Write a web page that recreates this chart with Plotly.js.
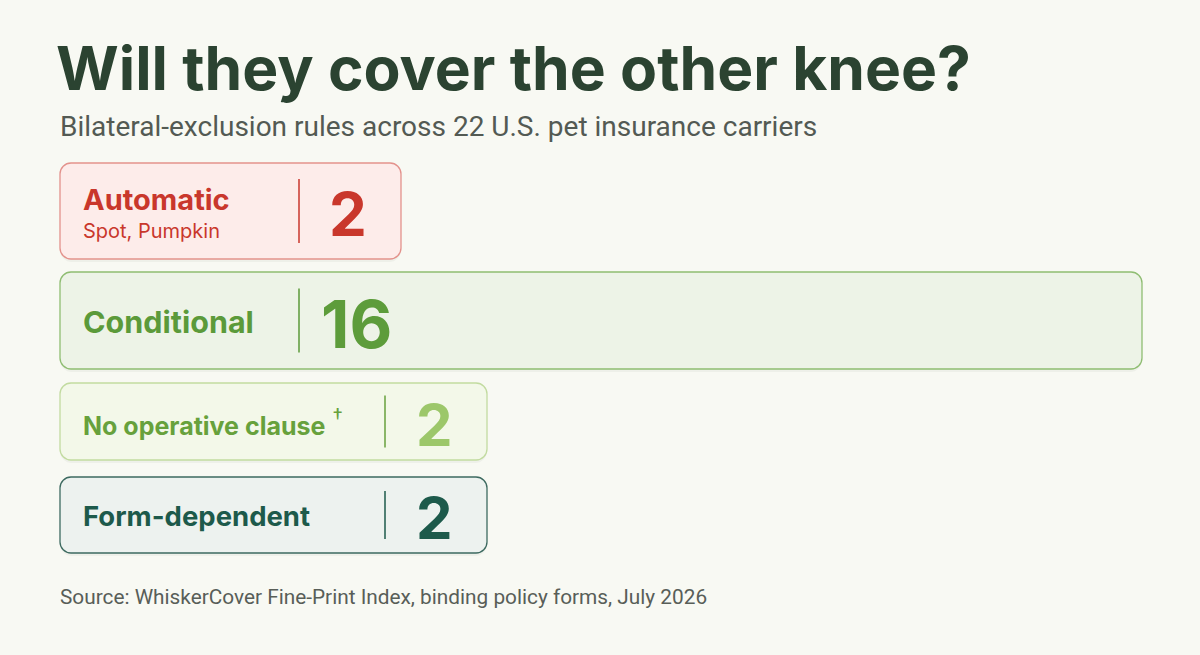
<!DOCTYPE html>
<html>
<head>
<meta charset="utf-8">
<script src="https://cdn.plot.ly/plotly-3.0.1.min.js"></script>
<style>
  html, body { margin: 0; padding: 0; background: #f8f9f3; }
  #chart { width: 1200px; height: 655px; }
</style>
</head>
<body>
<div id="chart"></div>
<script>
// ---------------- DATA ----------------
const categories = ["Automatic", "Conditional", "No operative clause", "Form-dependent"];
const counts     = [2, 16, 2, 2];
const carriers   = ["Spot, Pumpkin", "", "", ""];
const footnotes  = ["", "", "†", ""];
const totalCarriers = 22;

const titleText    = "Will they cover the other knee?";
const subtitleText = "Bilateral-exclusion rules across " + totalCarriers + " U.S. pet insurance carriers";
const sourceText   = "Source: WhiskerCover Fine-Print Index, binding policy forms, July 2026";

// ---------------- STYLE / LAYOUT ----------------
const W = 1200, H = 655;
const left = 60, right = 1142;               // span the largest count fills
const pxPerUnit = (right - left) / Math.max(...counts);
const minBoxPx  = [341, 0, 427, 427];        // minimum box width to fit its content
const rowCenter = [211, 320.5, 421.5, 515];
const rowHeight = [96, 97, 77, 76];
const dividerPx = [239, 239, 325, 325];      // divider offset from box left
const dividerHalf = [32, 32, 26, 24];
const valueShift = [288, 296, 374, 374];     // value centre offset from box left
const valueSize  = [60, 66, 58, 58];
const labelSize  = [29, 30.5, 25, 27.5];

const fills   = ["#fdecea", "#edf3e7", "#f3f8e9", "#edf2ef"];
const borders = ["#e3928c", "#8fbd72", "#c2dba0", "#3d6a60"];
const labelCol = ["#c9372c", "#5b9a3a", "#67a13c", "#1d5a4b"];
const valueCol = ["#c9372c", "#5d9c3b", "#9cc76a", "#1d5a4b"];
const textFont = "Inter, 'Noto Sans', sans-serif";
const plainFont = "Roboto, 'Liberation Sans', sans-serif";

const boxLen = counts.map((c, i) => Math.max(c, minBoxPx[i] / pxPerUnit));

const shadow = {
  type: "bar", orientation: "h",
  x: boxLen, base: 0,
  y: rowCenter.map(c => c + 3),
  width: rowHeight,
  marker: { color: "rgba(60,80,50,0.05)", cornerradius: 12, line: { width: 0 } },
  hoverinfo: "skip", showlegend: false
};
const boxes = {
  type: "bar", orientation: "h",
  x: boxLen, base: 0,
  y: rowCenter,
  width: rowHeight,
  marker: { color: fills, cornerradius: 11, line: { color: borders, width: 1.3 } },
  customdata: counts,
  text: categories, textposition: "none",
  hovertemplate: "%{text}: %{customdata}<extra></extra>",
  showlegend: false
};

const annotations = [];
const shapes = [];
categories.forEach((cat, i) => {
  const hasSub = carriers[i] !== "";
  annotations.push({
    x: 0, xref: "x", xshift: 21, xanchor: "left",
    y: hasSub ? rowCenter[i] - 12 : rowCenter[i] + 1, yref: "y", yanchor: "middle",
    text: "<b>" + cat + "</b>" +
          (footnotes[i] ? " <sup><span style='font-size:21px'>" + footnotes[i] + "</span></sup>" : ""),
    showarrow: false,
    font: { family: textFont, size: labelSize[i], color: labelCol[i] }
  });
  if (hasSub) {
    annotations.push({
      x: 0, xref: "x", xshift: 21, xanchor: "left",
      y: rowCenter[i] + 20, yref: "y", yanchor: "middle",
      text: carriers[i], showarrow: false,
      font: { family: textFont, size: 20, color: labelCol[i] }
    });
  }
  annotations.push({
    x: 0, xref: "x", xshift: valueShift[i], xanchor: "center",
    y: rowCenter[i] + 3, yref: "y", yanchor: "middle",
    text: "<b>" + counts[i] + "</b>", showarrow: false,
    font: { family: textFont, size: valueSize[i], color: valueCol[i] }
  });
  shapes.push({
    type: "line", xref: "x", xsizemode: "pixel", xanchor: 0,
    x0: dividerPx[i], x1: dividerPx[i],
    yref: "y", y0: rowCenter[i] - dividerHalf[i], y1: rowCenter[i] + dividerHalf[i],
    line: { color: labelCol[i], width: 1.5 }
  });
});

annotations.push({
  xref: "paper", x: 58 / W, xanchor: "left",
  yref: "paper", y: 1 - 126 / H, yanchor: "middle",
  text: subtitleText, showarrow: false,
  font: { family: plainFont, size: 28, color: "#535a53" }
});
annotations.push({
  xref: "paper", x: 58 / W, xanchor: "left",
  yref: "paper", y: 1 - 597 / H, yanchor: "middle",
  text: sourceText, showarrow: false,
  font: { family: plainFont, size: 20.8, color: "#585e58" }
});

const layout = {
  width: W, height: H,
  paper_bgcolor: "#f8f9f3", plot_bgcolor: "rgba(0,0,0,0)",
  margin: { l: 0, r: 0, t: 0, b: 0 },
  barmode: "overlay",
  title: {
    text: "<b>" + titleText + "</b>",
    x: 56 / W, xanchor: "left", xref: "container",
    y: 1 - 69 / H, yanchor: "middle", yref: "container",
    font: { family: textFont, size: 60.5, color: "#2b4331" }
  },
  xaxis: {
    range: [-left / pxPerUnit, (W - left) / pxPerUnit],
    visible: false, fixedrange: true
  },
  yaxis: {
    range: [H, 0], visible: false, fixedrange: true
  },
  annotations: annotations,
  shapes: shapes
};

Plotly.newPlot("chart", [shadow, boxes], layout, { displayModeBar: false, staticPlot: true });
</script>
</body>
</html>
